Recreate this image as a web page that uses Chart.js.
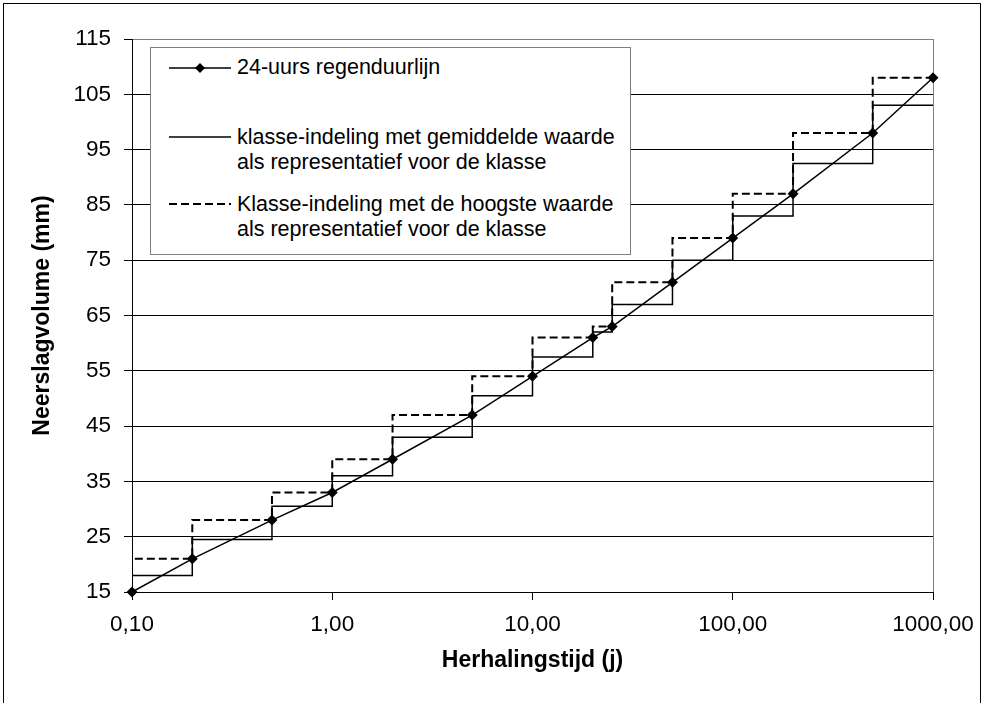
<!DOCTYPE html>
<html>
<head>
<meta charset="utf-8">
<script src="https://cdn.jsdelivr.net/npm/chart.js@4.4.1/dist/chart.umd.min.js"></script>
<style>
  body { margin: 0; background: #fff; }
  #wrap { position: relative; width: 985px; height: 703px; }
  #legende {
    position: absolute; left: 150px; top: 47px; width: 479px; height: 206px;
    border: 1px solid #808080; background: #fff;
    font-family: "Liberation Sans", Arial, sans-serif; font-size: 21.5px; color: #000;
  }
  .sample { position: absolute; left: 18px; width: 62px; height: 12px; }
  .tekst { position: absolute; left: 86px; line-height: 25px; white-space: nowrap; }
</style>
</head>
<body>
<div id="wrap">
  <canvas id="grafiek" width="985" height="703"></canvas>
  <div id="legende">
    <svg class="sample" style="top:14px" viewBox="0 0 62 12">
      <line x1="0" y1="6" x2="62" y2="6" stroke="#000" stroke-width="1.5"/>
      <polygon points="31,1 36,6 31,11 26,6" fill="#000"/>
    </svg>
    <div class="tekst" style="top:7px">24-uurs regenduurlijn</div>
    <svg class="sample" style="top:83px" viewBox="0 0 62 12">
      <line x1="0" y1="6" x2="62" y2="6" stroke="#000" stroke-width="1.5"/>
    </svg>
    <div class="tekst" style="top:77px">klasse-indeling met gemiddelde waarde<br>als representatief voor de klasse</div>
    <svg class="sample" style="top:150px" viewBox="0 0 62 12">
      <line x1="0" y1="6" x2="62" y2="6" stroke="#000" stroke-width="2" stroke-dasharray="8,4"/>
    </svg>
    <div class="tekst" style="top:144px">Klasse-indeling met de hoogste waarde<br>als representatief voor de klasse</div>
  </div>
</div>
<script>
// herhalingstijd (jaar) en 24-uurs neerslag (mm)
const herhalingstijd = [0.1, 0.2, 0.5, 1, 2, 5, 10, 20, 25, 50, 100, 200, 500, 1000];
const neerslag = [15, 21, 28, 33, 39, 47, 54, 61, 63, 71, 79, 87, 98, 108];

// klassewaarde tussen herhalingstijd[i] en herhalingstijd[i+1]
const klasseGemiddeld = [18, 24.5, 30.5, 36, 43, 50.5, 57.5, 62, 67, 75, 83, 92.5, 103];
const klasseHoogste = [21, 28, 33, 39, 47, 54, 61, 63, 71, 79, 87, 98, 108];

const xTickWaarden = [0.1, 1, 10, 100, 1000];
const xTickLabels = ['0,10', '1,00', '10,00', '100,00', '1000,00'];

const FONT = '"Liberation Sans", Arial, sans-serif';
Chart.defaults.font.family = FONT;
Chart.defaults.font.size = 22.5;
Chart.defaults.color = '#000';

// trappenlijn (stepped 'after' = eerst verticaal, dan horizontaal):
// punt i+1 draagt de klassewaarde tussen herhalingstijd i en i+1
function trappen(waarden) {
    return herhalingstijd.map((t, i) => ({ x: t, y: i === 0 ? neerslag[0] : waarden[i - 1] }));
}

// rand rond de hele grafiek + grijze rechterrand van het plotgebied
const randen = {
    id: 'randen',
    beforeDatasetsDraw(chart) {
        const { ctx, chartArea: a } = chart;
        ctx.save();
        ctx.strokeStyle = '#808080';
        ctx.lineWidth = 1;
        ctx.beginPath();
        ctx.moveTo(Math.round(a.right) + 0.5, a.top);
        ctx.lineTo(Math.round(a.right) + 0.5, a.bottom);
        ctx.stroke();
        ctx.restore();
    },
    afterDraw(chart) {
        const ctx = chart.ctx;
        ctx.save();
        ctx.strokeStyle = '#000';
        ctx.lineWidth = 1;
        ctx.strokeRect(3.5, 3.5, 977, 720);
        ctx.restore();
    }
};

new Chart(document.getElementById('grafiek'), {
    type: 'line',
    data: {
        datasets: [
            {
                label: '24-uurs regenduurlijn',
                data: herhalingstijd.map((t, i) => ({ x: t, y: neerslag[i] })),
                borderColor: '#000',
                backgroundColor: '#000',
                borderWidth: 1.5,
                pointStyle: 'rectRot',
                pointRadius: 5.5,
                pointBorderWidth: 0,
                tension: 0,
                clip: false
            },
            {
                label: 'klasse-indeling met gemiddelde waarde',
                data: trappen(klasseGemiddeld),
                borderColor: '#000',
                borderWidth: 1.5,
                pointRadius: 0,
                stepped: 'after'
            },
            {
                label: 'Klasse-indeling met de hoogste waarde',
                data: trappen(klasseHoogste),
                borderColor: '#000',
                borderWidth: 2,
                borderDash: [8, 4],
                pointRadius: 0,
                stepped: 'after'
            }
        ]
    },
    options: {
        responsive: false,
        animation: false,
        layout: { padding: { left: 0, right: 52, top: 39, bottom: 0 } },
        plugins: {
            legend: { display: false },
            tooltip: { enabled: false }
        },
        scales: {
            x: {
                type: 'logarithmic',
                min: 0.1,
                max: 1000,
                afterBuildTicks: (scale) => {
                    scale.ticks = xTickWaarden.map(v => ({ value: v }));
                },
                afterFit: (scale) => { scale.height = 111; },
                ticks: {
                    autoSkip: false,
                    maxRotation: 0,
                    padding: 11,
                    callback: (value) => xTickLabels[xTickWaarden.indexOf(value)] ?? ''
                },
                grid: {
                    drawOnChartArea: false,
                    tickLength: 8,
                    tickColor: '#000'
                },
                border: { color: '#000', width: 1 },
                title: {
                    display: true,
                    text: 'Herhalingstijd (j)',
                    font: { size: 23, weight: 'bold' },
                    padding: { bottom: 29 }
                }
            },
            y: {
                min: 15,
                max: 115,
                afterFit: (scale) => { scale.width = 132; },
                ticks: {
                    stepSize: 10,
                    padding: 13
                },
                grid: {
                    color: (c) => c.tick && c.tick.value === 115 ? '#808080' : '#000',
                    tickColor: '#000',
                    tickLength: 8,
                    lineWidth: 1
                },
                border: { color: '#000', width: 1 },
                title: {
                    display: true,
                    text: 'Neerslagvolume (mm)',
                    font: { size: 23, weight: 'bold' },
                    padding: { top: 29 }
                }
            }
        }
    },
    plugins: [randen]
});
</script>
</body>
</html>
